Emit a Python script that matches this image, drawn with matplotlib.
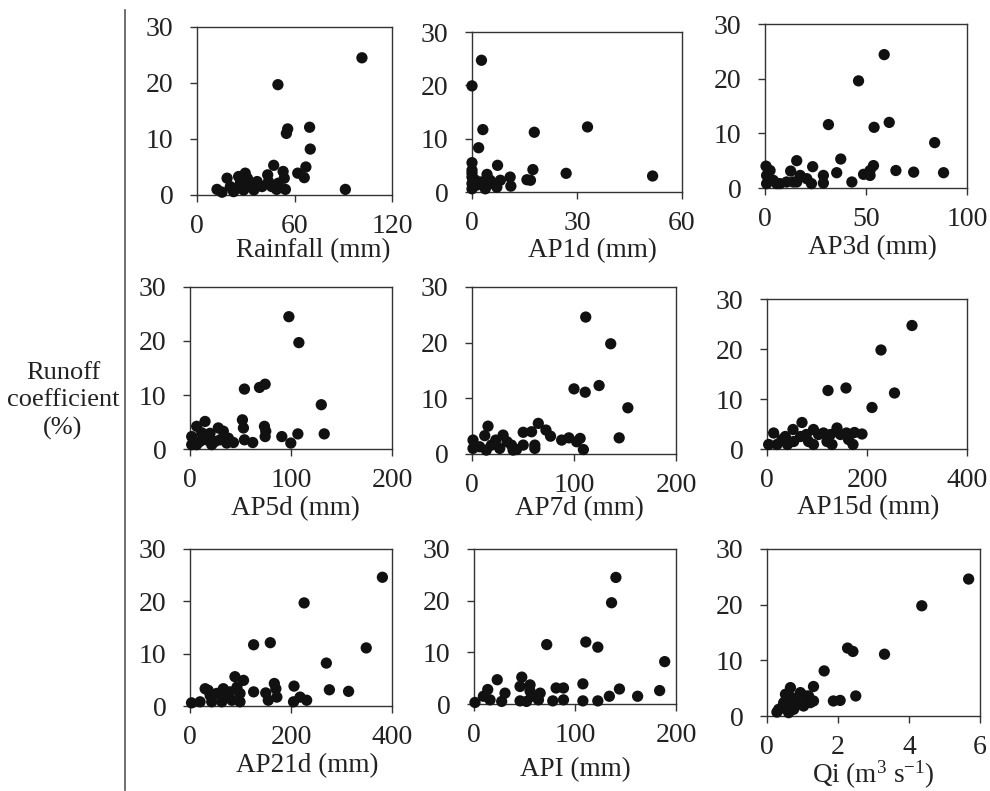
import matplotlib
matplotlib.use("Agg")
import matplotlib.pyplot as plt
from matplotlib.lines import Line2D

plt.rcParams['font.family'] = ['Liberation Serif', 'DejaVu Serif']
plt.rcParams['mathtext.fontset'] = 'custom'
plt.rcParams['mathtext.rm'] = 'Liberation Serif'
plt.rcParams['mathtext.it'] = 'Liberation Serif:italic'

# ---------------- data ----------------
rain_x = [101.5, 49.8, 55, 55.8, 69.3, 69.7, 47.2, 67, 66, 62, 91.3, 53, 53.7, 54.4, 50, 49,
          43.5, 44, 40, 37, 33, 29.7, 25.6, 28.7, 24.6, 26.7, 18.5, 20.5, 12.3, 15.4, 22.5,
          35, 46, 31]
rain_y = [24.5, 19.7, 11.0, 11.8, 12.1, 8.2, 5.3, 5.0, 3.1, 3.9, 1.0, 4.2, 3.0, 1.0, 2.1, 1.0,
          3.6, 2.4, 1.5, 2.4, 2.1, 3.9, 3.3, 0.9, 1.2, 2.2, 3.0, 1.5, 1.0, 0.5, 0.6,
          0.9, 1.5, 3.0]

ap1_x = [2.7, 0, 3.1, 1.9, 17.8, 33, 0, 7.3, 17.4, 26.9, 51.6, 4.3, 10.9, 8.1, 11.1, 15.7,
         16.7, 0, 0, 0, 0, 1.4, 2.8, 4.3, 5.7, 7.1, 1, 3.8, 5.2, 0]
ap1_y = [24.7, 19.9, 11.7, 8.3, 11.2, 12.2, 5.5, 5.0, 4.2, 3.5, 3.0, 3.3, 2.8, 2.2, 1.1, 2.3,
         2.2, 4.1, 2.8, 1.6, 0.6, 1.3, 1.9, 1.3, 1.6, 0.9, 2.2, 0.6, 2.2, 3.5]

ap3_x = [59, 46.3, 31.4, 61.5, 54, 84, 37.5, 15.7, 0.5, 0.8, 23.6, 12.7, 35.5, 28.9, 28.9, 43,
         48.8, 52, 53.7, 52, 64.8, 73.6, 88.4, 20.7, 23, 17.4, 14, 10.7, 7.4, 4.1, 0.8,
         2.5, 5.8, 15.7]
ap3_y = [24.4, 19.6, 11.6, 12.0, 11.1, 8.3, 5.3, 5.0, 4.0, 2.3, 3.9, 3.1, 2.8, 2.3, 0.9, 1.1,
         2.5, 3.2, 4.1, 2.3, 3.2, 2.9, 2.8, 1.7, 0.8, 2.3, 1.1, 1.1, 0.8, 1.4, 0.8,
         3.2, 0.8, 1.1]

ap5_x = [97.9, 107.8, 53.9, 68.8, 74.4, 130, 132.9, 106.8, 99.8, 90.9, 73.7, 75, 74.4, 51.9,
         52.9, 53.9, 62.1, 14.9, 6.6, 28, 33, 19.8, 38, 43, 36.4, 24.8, 16.5, 9.9, 1.7, 1.7,
         6.6, 11.6, 21.5, 29.8]
ap5_y = [24.5, 19.7, 11.1, 11.4, 12.0, 8.2, 2.8, 2.8, 1.1, 2.3, 4.2, 3.3, 2.3, 5.4,
         3.9, 1.7, 1.2, 5.1, 4.2, 3.9, 3.3, 2.9, 2.0, 1.2, 1.1, 1.4, 1.7, 1.4, 2.3, 0.8,
         0.8, 3.0, 0.8, 1.7]

ap7_x = [111.5, 136, 100, 111, 124.6, 152.8, 144.3, 109.2, 106, 95, 87.9, 102.6, 77, 72.5,
         65, 58.4, 50.2, 61.6, 61.6, 50.2, 43.6, 38.7, 34.4, 30.5, 23.3, 15.7, 12.5, 19, 27.2,
         1, 1, 7.5, 14, 40.3]
ap7_y = [24.6, 19.8, 11.7, 11.1, 12.3, 8.3, 2.9, 0.8, 2.8, 2.9, 2.5, 2.2, 3.2, 4.3,
         5.5, 4.0, 3.9, 1.6, 1.0, 1.6, 0.8, 1.6, 2.2, 3.4, 2.5, 5.0, 3.3, 1.6, 1.0,
         2.5, 1.0, 1.3, 0.7, 0.7]

ap15_x = [290, 228, 122, 158, 255, 210, 70, 52, 13.3, 3.3, 20, 30, 41, 36.7, 53.3, 78.7, 83,
          93, 103, 93, 120, 127, 130, 140, 147, 159, 163, 172, 175, 190, 113, 67]
ap15_y = [24.7, 19.8, 11.7, 12.2, 11.2, 8.3, 5.3, 3.9, 3.2, 0.9, 0.9, 1.9, 0.9, 2.5, 1.5, 2.9, 1.5,
          3.9, 2.9, 0.9, 1.5, 2.9, 0.9, 4.2, 2.9, 3.2, 1.9, 0.9, 3.3, 3.0, 3.2, 2.5]

ap21_x = [381, 226, 126, 159, 349, 270, 276, 314, 206, 167, 170, 172, 150, 155, 126, 218, 231,
          205, 89, 106, 93, 99, 99, 83, 66, 73, 53, 63, 30, 40, 43, 20, 3, 36, 79]
ap21_y = [24.6, 19.7, 11.7, 12.1, 11.1, 8.2, 3.1, 2.8, 3.8, 4.3, 3.3, 1.7, 2.5, 1.1, 2.7, 1.7, 1.1,
          0.8, 5.6, 4.9, 3.6, 2.4, 0.8, 1.1, 3.3, 2.0, 2.4, 0.8, 3.3, 2.0, 0.8, 0.8, 0.6, 3.0, 2.7]

api_x = [140.5, 136.2, 72, 110.7, 122.6, 188.8, 144, 134, 162, 183.8, 107.8, 107.8, 122.6, 88.6,
         88.6, 81.3, 78, 23, 47.3, 45.6, 55.5, 55.5, 65.5, 63.8, 45.6, 52, 30.7, 27.4, 13.6,
         9.3, 15.9, 1, 57]
api_y = [24.5, 19.6, 11.5, 12.0, 11.0, 8.2, 2.9, 1.5, 1.5, 2.6, 3.9, 0.6, 0.6, 3.1,
         0.8, 3.1, 0.6, 4.7, 5.2, 3.4, 3.7, 2.5, 2.1, 0.8, 0.6, 0.5, 2.1, 0.5, 2.8,
         1.5, 0.8, 0.3, 1.5]

qi_x = [5.68, 4.36, 2.27, 2.42, 3.31, 1.61, 1.31, 2.5, 2.06, 1.87, 0.66, 0.94, 1.31, 1.17, 1.03,
        0.84, 0.52, 0.56, 0.75, 0.42, 0.28, 0.61, 0.47, 0.7, 1.08, 1.22, 0.33, 0.8]
qi_y = [24.6, 19.8, 12.2, 11.6, 11.1, 8.1, 5.3, 3.6, 2.8, 2.7, 5.1, 4.2, 2.7, 3.6, 1.8,
        2.7, 3.9, 2.4, 1.2, 1.5, 0.7, 0.6, 2.4, 3.3, 3.6, 2.4, 1.2, 1.8]

xlabels = ['Rainfall (mm)', 'AP1d (mm)', 'AP3d (mm)', 'AP5d (mm)', 'AP7d (mm)',
           'AP15d (mm)', 'AP21d (mm)', 'API (mm)', r'Qi (m$^{3}$ s$^{-1}$)']
xticks = [[0, 60, 120], [0, 30, 60], [0, 50, 100], [0, 100, 200], [0, 100, 200],
          [0, 200, 400], [0, 200, 400], [0, 100, 200], [0, 2, 4, 6]]
yticks = [0, 10, 20, 30]
ylabel = 'Runoff\ncoefficient\n(%)'

series = [(rain_x, rain_y), (ap1_x, ap1_y), (ap3_x, ap3_y), (ap5_x, ap5_y), (ap7_x, ap7_y),
          (ap15_x, ap15_y), (ap21_x, ap21_y), (api_x, api_y), (qi_x, qi_y)]

# layout in pixels: axes box (left, right, top, bottom) and x-label (centre x, top y)
W, H = 990, 791
boxes = [(197, 392, 27, 195), (472, 682, 32, 192), (765, 967, 24, 188),
         (190, 392, 287, 449), (472, 676, 287, 454), (767, 967, 299, 449),
         (190, 392, 549, 706), (474, 676, 549, 704), (767, 980, 549, 716)]
label_pos = [(313, 238), (592, 238), (872, 235), (295, 496), (579, 496), (868, 495),
             (307, 753), (575, 757), (873, 759)]

fig = plt.figure(figsize=(W / 100, H / 100), dpi=100)
edge = '#333333'
txt = '#222222'
for (xs, ys), lab, xt, (l, r, t, b), (lx, ly) in zip(series, xlabels, xticks, boxes, label_pos):
    ax = fig.add_axes([l / W, 1 - b / H, (r - l) / W, (b - t) / H])
    ax.scatter(xs, ys, s=66, color='#111111', edgecolors='none', clip_on=False, zorder=3)
    ax.set_xlim(xt[0], xt[-1])
    ax.set_ylim(0, 30)
    ax.set_xticks(xt)
    ax.set_yticks(yticks)
    ax.tick_params(direction='out', length=5, width=1, color=edge,
                   labelsize=20, labelcolor=txt)
    ax.tick_params(axis='x', pad=9)
    ax.tick_params(axis='y', pad=12)
    for sp in ax.spines.values():
        sp.set_color(edge)
        sp.set_linewidth(1)
    ax.set_xlabel(lab, fontsize=19.5, color=txt)
    ax.xaxis.set_label_coords(lx / W, 1 - ly / H, transform=fig.transFigure)

fig.text(63 / W, 1 - 401 / H, ylabel, ha='center', va='center', fontsize=19,
         color=txt, linespacing=1.3)
fig.add_artist(Line2D([125 / W, 125 / W], [1 - 10 / H, 1 - 790 / H], color='#555555',
                      linewidth=1.2))

fig.savefig('out.png', dpi=100, facecolor='white')
